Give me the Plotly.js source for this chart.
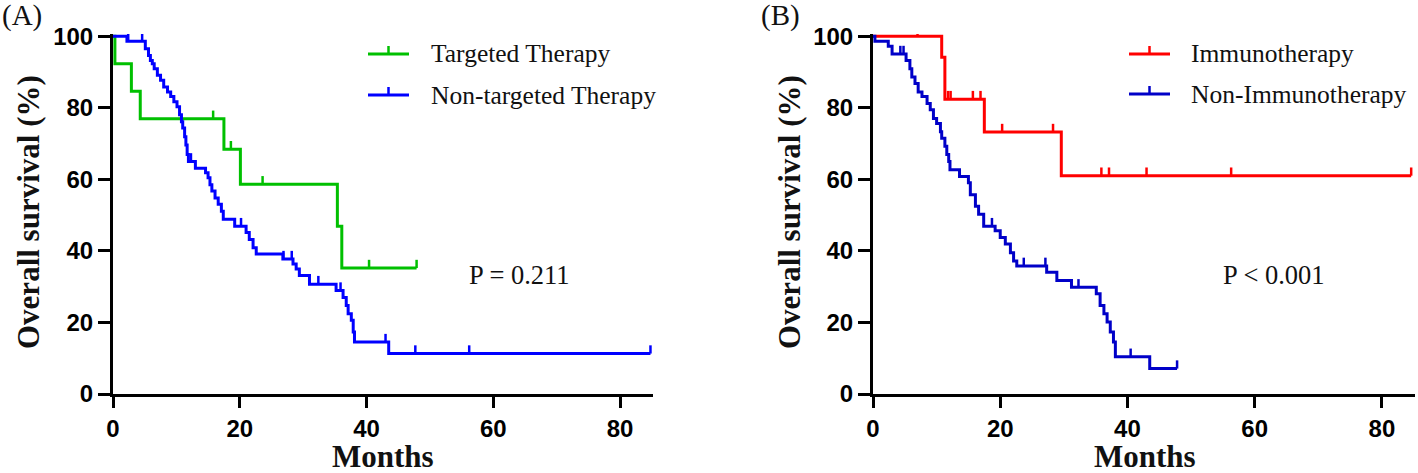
<!DOCTYPE html>
<html>
<head>
<meta charset="utf-8">
<script src="https://cdn.plot.ly/plotly-3.0.1.min.js"></script>
<style>html,body{margin:0;padding:0;background:#fff;}#chart{width:1418px;height:473px;}</style>
</head>
<body>
<div id="chart"></div>
<script>
// ---------------- DATA ----------------
// Panel A
const targetedTimes  = [0, 0.3, 2.9, 4.3, 17.5, 20.1, 35.4, 36.1];
const targetedSurv   = [100, 92.3, 84.6, 76.9, 68.4, 58.6, 46.9, 35.2];
const targetedCensor = [15.8, 18.6, 23.6, 40.4, 47.9];

const nonTargetedTimes = [0, 2.2, 5.1, 5.6, 5.9, 6.2, 6.5, 7.0, 7.5, 8.0, 8.6, 9.1, 9.6, 10.1, 10.5, 10.8, 11.0, 11.3, 11.5, 11.7, 11.9,
  13.0, 14.6, 15.0, 15.3, 15.6, 16.1, 16.6, 17.1, 17.4, 19.2, 21.0, 21.5, 22.1, 22.6, 26.8, 28.4, 28.9, 29.4, 31.0,
  35.2, 36.3, 36.8, 37.1, 37.6, 37.9, 38.1, 43.5];
const nonTargetedSurv = [100, 98.6, 96.5, 94.6, 93.2, 92.3, 90.9, 89.1, 87.7, 85.8, 84.4, 83.1, 81.7, 80.3, 78.0, 76.1, 74.3, 71.9, 69.6, 66.9, 65.0,
  63.1, 61.8, 60.4, 58.5, 56.7, 54.8, 53.0, 51.1, 48.8, 46.9, 45.1, 43.2, 40.9, 39.1, 37.7, 36.3, 34.9, 33.1, 30.7,
  28.9, 27.0, 24.7, 22.4, 20.6, 17.3, 14.5, 11.3];
const nonTargetedCensor = [2.4, 4.6, 12.3, 20.2, 26.9, 28.2, 32.4, 35.9, 43.0, 47.7, 56.2, 84.8];

// Panel B
const immunoTimes  = [0, 10.8, 11.3, 17.5, 29.6];
const immunoSurv   = [100, 94.1, 82.4, 73.2, 61.0];
const immunoCensor = [7.0, 11.8, 12.2, 15.7, 16.9, 20.3, 28.3, 35.9, 37.1, 43.0, 56.3, 84.6];

const nonImmunoTimes = [0, 0.3, 2.4, 3.0, 5.2, 5.8, 6.1, 6.6, 7.1, 7.7, 8.5, 9.0, 9.5, 10.0, 10.6, 10.8, 11.3, 11.6, 11.9, 12.1,
  13.6, 15.0, 15.3, 16.1, 16.6, 17.4, 19.2, 20.0, 20.8, 21.6, 22.1, 22.6, 27.3, 28.9, 31.2,
  35.1, 35.7, 36.3, 36.8, 37.3, 37.8, 38.1, 43.5];
const nonImmunoSurv = [100, 98.6, 97.2, 95.0, 93.2, 90.9, 88.6, 86.8, 84.4, 83.1, 81.2, 79.4, 77.0, 75.6, 73.3, 71.5, 69.2, 66.9, 65.0, 62.7,
  60.8, 59.0, 55.7, 52.5, 50.2, 46.9, 45.6, 43.7, 41.9, 39.5, 37.2, 35.8, 34.0, 31.7, 29.8,
  28.0, 24.7, 22.4, 20.1, 17.3, 14.5, 10.4, 7.1];
const nonImmunoCensor = [4.3, 4.8, 18.7, 23.7, 27.1, 32.3, 40.5, 47.8];

const xTickVals = [0, 20, 40, 60, 80];
const yTickVals = [0, 20, 40, 60, 80, 100];
const legendA = ["Targeted Therapy", "Non-targeted Therapy"];
const legendB = ["Immunotherapy", "Non-Immunotherapy"];
const pTextA = "P = 0.211";
const pTextB = "P < 0.001";

// ---------------- HELPERS ----------------
const W = 1418, H = 473;
const fx = v => v / W;
const fy = v => 1 - v / H;
const TICK_UP = 2.3;

function levelAt(times, surv, t) {
  let s = surv[0];
  for (let i = 0; i < times.length; i++) { if (times[i] <= t) s = surv[i]; }
  return s;
}
function stepTrace(times, surv, censor, color, xa, ya) {
  const endT = Math.max(times[times.length - 1], censor[censor.length - 1]);
  const xs = times.concat([endT]);
  const ys = surv.concat([surv[surv.length - 1]]);
  return {x: xs, y: ys, xaxis: xa, yaxis: ya, mode: 'lines', line: {shape: 'hv', color: color, width: 3}, hoverinfo: 'skip', showlegend: false};
}
function censorTrace(times, surv, censor, color, xa, ya) {
  const xs = [], ys = [];
  censor.forEach(t => { const l = levelAt(times, surv, t); xs.push(t, t, null); ys.push(l, l + TICK_UP, null); });
  return {x: xs, y: ys, xaxis: xa, yaxis: ya, mode: 'lines', line: {color: color, width: 2.5}, hoverinfo: 'skip', showlegend: false, cliponaxis: false};
}

const GREEN = '#00C000', BLUE_A = '#0000FF', RED = '#FF0000', BLUE_B = '#0000C8';

const traces = [
  stepTrace(targetedTimes, targetedSurv, targetedCensor, GREEN, 'x', 'y'),
  censorTrace(targetedTimes, targetedSurv, targetedCensor, GREEN, 'x', 'y'),
  stepTrace(nonTargetedTimes, nonTargetedSurv, nonTargetedCensor, BLUE_A, 'x', 'y'),
  censorTrace(nonTargetedTimes, nonTargetedSurv, nonTargetedCensor, BLUE_A, 'x', 'y'),
  stepTrace(immunoTimes, immunoSurv, immunoCensor, RED, 'x2', 'y2'),
  censorTrace(immunoTimes, immunoSurv, immunoCensor, RED, 'x2', 'y2'),
  stepTrace(nonImmunoTimes, nonImmunoSurv, nonImmunoCensor, BLUE_B, 'x2', 'y2'),
  censorTrace(nonImmunoTimes, nonImmunoSurv, nonImmunoCensor, BLUE_B, 'x2', 'y2')
];

const tickFont = {family: 'Liberation Sans, Arial, sans-serif', size: 24, color: '#000', weight: 'bold'};
function xAx(domain, anchor) {
  return {domain: domain, anchor: anchor, range: [0, 85.2], tickvals: xTickVals, ticktext: xTickVals.map(String),
    showline: true, linecolor: '#000', linewidth: 3, ticks: 'outside', ticklen: 11, tickwidth: 3, tickcolor: '#000',
    showgrid: false, zeroline: false, tickfont: tickFont, fixedrange: true};
}
function yAx(anchor) {
  return {domain: [fy(394), fy(34)], anchor: anchor, range: [0, 100.6], tickvals: yTickVals, ticktext: yTickVals.map(String),
    showline: true, linecolor: '#000', linewidth: 3, ticks: 'outside', ticklen: 12, tickwidth: 3, tickcolor: '#000',
    showgrid: false, zeroline: false, tickfont: tickFont, fixedrange: true};
}

const serif = 'Liberation Serif, Times New Roman, serif';
const annotations = [];
const shapes = [];
function ann(text, x, y, opts) {
  annotations.push(Object.assign({text: text, x: fx(x), y: fy(y), xref: 'paper', yref: 'paper', showarrow: false,
    font: {family: serif, size: 24, color: '#111'}}, opts));
}
const titleFont = {family: serif, size: 31, color: '#111', weight: 'bold'};
ann('(A)', 0, 15, {xanchor: 'left', yanchor: 'middle', font: {family: serif, size: 29, color: '#111'}});
ann('(B)', 759, 15, {xanchor: 'left', yanchor: 'middle', font: {family: serif, size: 29, color: '#111'}});
ann('Overall survival (%)', 29, 212, {xanchor: 'center', yanchor: 'middle', textangle: -90, font: titleFont});
ann('Overall survival (%)', 790, 212, {xanchor: 'center', yanchor: 'middle', textangle: -90, font: titleFont});
ann('Months', 383, 456, {xanchor: 'center', yanchor: 'middle', font: titleFont});
ann('Months', 1145, 456, {xanchor: 'center', yanchor: 'middle', font: titleFont});
ann(pTextA, 519, 275, {xanchor: 'center', yanchor: 'middle', font: {family: serif, size: 26.5, color: '#111'}});
ann(pTextB, 1274, 275, {xanchor: 'center', yanchor: 'middle', font: {family: serif, size: 26.5, color: '#111'}});

function legendItem(label, color, x0, y, textX) {
  shapes.push({type: 'line', xref: 'paper', yref: 'paper', x0: fx(x0), x1: fx(x0 + 41), y0: fy(y), y1: fy(y), line: {color: color, width: 3}});
  shapes.push({type: 'line', xref: 'paper', yref: 'paper', x0: fx(x0 + 20.5), x1: fx(x0 + 20.5), y0: fy(y), y1: fy(y - 8), line: {color: color, width: 2.5}});
  ann(label, textX, y, {xanchor: 'left', yanchor: 'middle', font: {family: serif, size: 25.5, color: '#111'}});
}
legendItem(legendA[0], GREEN, 368, 54, 429);
legendItem(legendA[1], BLUE_A, 368, 95, 429);
legendItem(legendB[0], RED, 1129, 54, 1189);
legendItem(legendB[1], BLUE_B, 1129, 94, 1189);

const layout = {
  width: W, height: H, margin: {l: 0, r: 0, t: 0, b: 0},
  paper_bgcolor: '#fff', plot_bgcolor: '#fff', showlegend: false,
  xaxis: xAx([fx(113), fx(653)], 'y'),
  yaxis: yAx('x'),
  xaxis2: xAx([fx(873), fx(1415)], 'y2'),
  yaxis2: yAx('x2'),
  annotations: annotations, shapes: shapes
};
Plotly.newPlot('chart', traces, layout, {displayModeBar: false, staticPlot: true});
</script>
</body>
</html>
